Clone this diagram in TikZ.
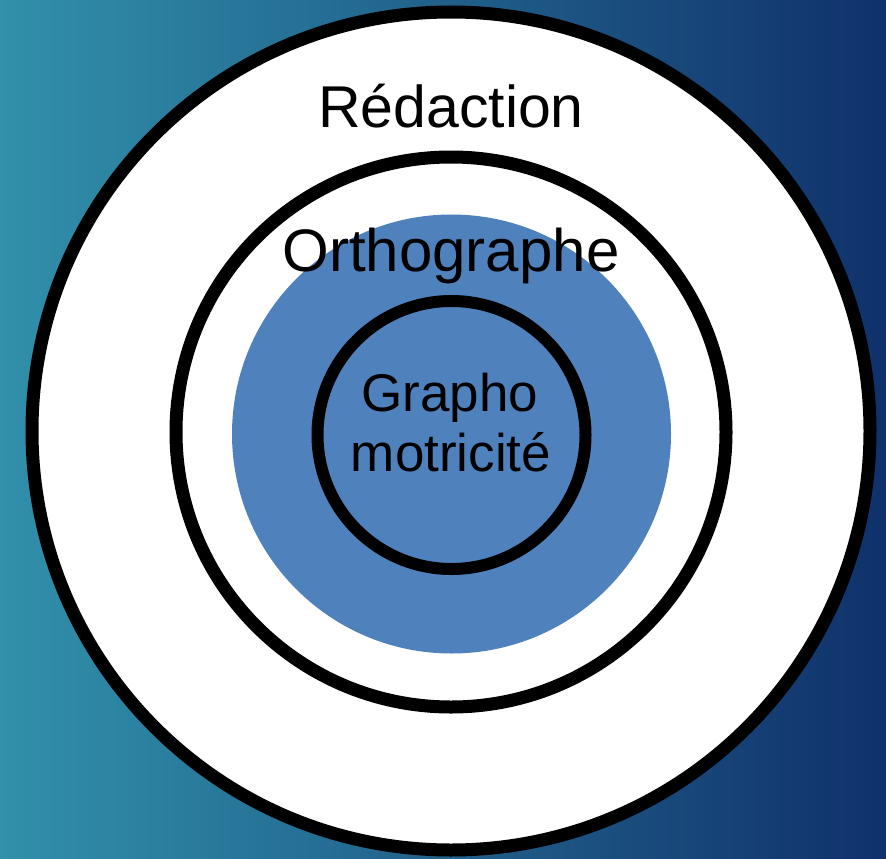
\documentclass[tikz,border=0pt]{standalone}
\usepackage{fontspec}
\setmainfont{Liberation Sans}
\definecolor{bgleft}{HTML}{3190AB}
\definecolor{bgright}{HTML}{10316B}
\definecolor{midblue}{HTML}{4F81BD}
\begin{document}
\begin{tikzpicture}[x=1pt,y=-1pt,
  ring/.style={circle, draw=black, line width=13pt, fill=white, inner sep=0pt},
  lbl/.style={font=\fontsize{59}{66}\selectfont, text=black, inner sep=0pt, anchor=base}]
\useasboundingbox (0,0) rectangle (886,859);
\shade[left color=bgleft, right color=bgright] (0,0) rectangle (886,859);
\node[ring, minimum size=838pt] (outer) at (451,431) {};
\node[ring, minimum size=550pt] (middle) at (451,432) {};
\node[circle, fill=midblue, draw=none, minimum size=439pt, inner sep=0pt] (blue) at (451.5,434) {};
\node[circle, draw=black, line width=12pt, minimum size=268pt, inner sep=0pt] (inner) at (451.5,435) {};
\node[lbl] (redaction) at (451,127) {Rédaction};
\node[lbl, font=\fontsize{60}{66}\selectfont] (ortho) at (451,271) {Orthographe};
\node[lbl, font=\fontsize{53}{60}\selectfont] (grapho) at (450,411) {Grapho};
\node[lbl, font=\fontsize{53}{60}\selectfont] (motri) at (451,471) {motricité};
\end{tikzpicture}
\end{document}
